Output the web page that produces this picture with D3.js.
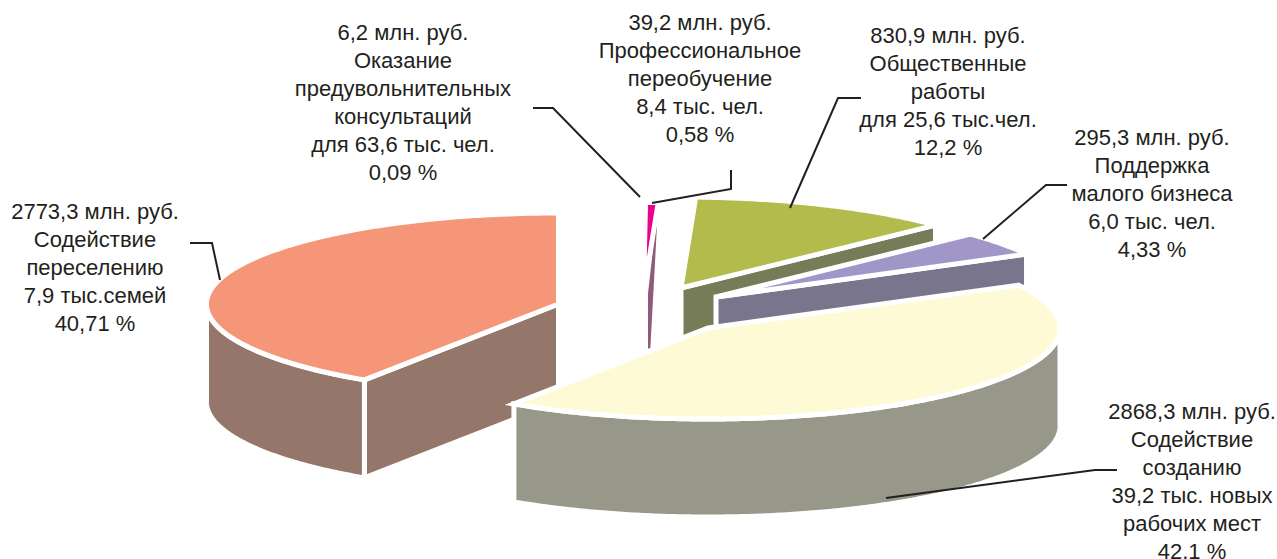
<!DOCTYPE html>
<html lang="ru">
<head>
<meta charset="utf-8">
<script src="https://cdn.jsdelivr.net/npm/d3@7/dist/d3.min.js"></script>
<style>
  html, body { margin: 0; padding: 0; background: #fff; overflow: hidden; }
  svg { display: block; }
  text { font-family: "Liberation Sans", Arial, sans-serif; font-size: 22px; fill: #231f20; text-anchor: middle; }
</style>
</head>
<body>
<svg id="chart" width="1277" height="559"></svg>
<script>
// Spending by programme, million roubles, clockwise from twelve o'clock.
const programmes = ["consult", "retraining", "publicWorks", "smallBusiness", "newJobs", "relocation"];
const amounts = [6.2, 39.2, 830.9, 295.3, 2868.3, 2773.3];
const topColors = ["#ffffff", "#ec008c", "#b3bb4c", "#a097c8", "#fffad6", "#f69679"];
const wallColors = ["#ffffff", "#91597a", "#767b58", "#78758d", "#97978a", "#94766a"];

const captions = [
  ["6,2 млн. руб.", "Оказание", "предувольнительных", "консультаций", "для 63,6 тыс. чел.", "0,09 %"],
  ["39,2 млн. руб.", "Профессиональное", "переобучение", "8,4 тыс. чел.", "0,58 %"],
  ["830,9 млн. руб.", "Общественные", "работы", "для 25,6 тыс.чел.", "12,2 %"],
  ["295,3 млн. руб.", "Поддержка", "малого бизнеса", "6,0 тыс. чел.", "4,33 %"],
  ["2868,3 млн. руб.", "Содействие", "созданию", "39,2 тыс. новых", "рабочих мест", "42,1 %"],
  ["2773,3 млн. руб.", "Содействие", "переселению", "7,9 тыс.семей", "40,71 %"]
];

// Layout of the exploded tilted pie.
const rx = 352, ry = 91, depth = 98, gap = 5;
const apexes = [[643.5, 293.5], [643.5, 293.5], [681, 288], [716, 297], [708, 328], [558.5, 304]];
const captionAnchors = [[403, 40], [700, 30], [948, 43], [1152, 145], [1192, 419], [95, 219]];
const lineStep = 28;
const sliverShift = 4.5;
const leaders = [
  [[533, 108], [553, 108], [640, 197]],
  [[652, 203], [731, 189], [731, 170]],
  [[861, 98], [838, 98], [790, 208]],
  [[1067, 185], [1046, 185], [983, 239]],
  [[1117, 470], [1095, 470], [886, 498]],
  [[190, 243], [212, 243], [220, 280]]
];
const drawOrder = [5, 0, 1, 2, 3, 4];

const svg = d3.select("#chart");
const pie = d3.pie().sort(null).value(d => d.amount);
const slices = pie(amounts.map((amount, i) => ({ amount, name: programmes[i] })));

const lineGen = d3.line();
const rim = (a, apex, dy = 0) => [apex[0] + rx * Math.sin(a), apex[1] - ry * Math.cos(a) + dy];
const sweep = (a0, a1, apex, dy) => {
  const n = Math.max(2, Math.ceil(Math.abs(a1 - a0) / 0.01));
  return d3.range(n + 1).map(k => rim(a0 + (a1 - a0) * k / n, apex, dy));
};

const marks = svg.append("g").attr("stroke", "#fff").attr("stroke-width", gap).attr("stroke-linejoin", "miter");

drawOrder.forEach(i => {
  const s = slices[i], apex = apexes[i];
  const g = marks.append("g").attr("class", "slice " + programmes[i]);
  const wall = g.append("g").attr("fill", wallColors[i]);

  // Cut faces that turn toward the viewer.
  if (s.endAngle < Math.PI) {
    const e = rim(s.endAngle, apex);
    const face = i === 1
      ? [[apex[0] + sliverShift, apex[1]], e, [apex[0] + sliverShift, apex[1] + depth]]  // the thinnest slice tapers to a sliver
      : [apex, e, [e[0], e[1] + depth], [apex[0], apex[1] + depth]];
    wall.append("path").attr("d", lineGen(face) + "Z").attr("stroke", i === 1 ? "none" : null);
  }
  if (s.startAngle > Math.PI) {
    const e = rim(s.startAngle, apex);
    wall.append("path").attr("d", lineGen([apex, e, [e[0], e[1] + depth], [apex[0], apex[1] + depth]]) + "Z");
  }
  // Outer rim, front half only.
  const a0 = Math.max(s.startAngle, Math.PI / 2), a1 = Math.min(s.endAngle, 3 * Math.PI / 2);
  if (a1 > a0) {
    const pts = sweep(a0, a1, apex, 0).concat(sweep(a1, a0, apex, depth));
    wall.append("path").attr("d", lineGen(pts) + "Z");
  }
  // Top face.
  g.append("path")
    .attr("fill", topColors[i])
    .attr("d", lineGen([apex].concat(sweep(s.startAngle, s.endAngle, apex, 0))) + "Z");
});

svg.append("g").attr("fill", "none").attr("stroke", "#231f20").attr("stroke-width", 2)
  .selectAll("path").data(leaders).join("path").attr("d", d => lineGen(d));

captions.forEach((lines, i) => {
  const [x, y] = captionAnchors[i];
  svg.append("text").selectAll("tspan").data(lines).join("tspan")
    .attr("x", x).attr("y", (d, k) => y + k * lineStep).text(d => d);
});
</script>
</body>
</html>
